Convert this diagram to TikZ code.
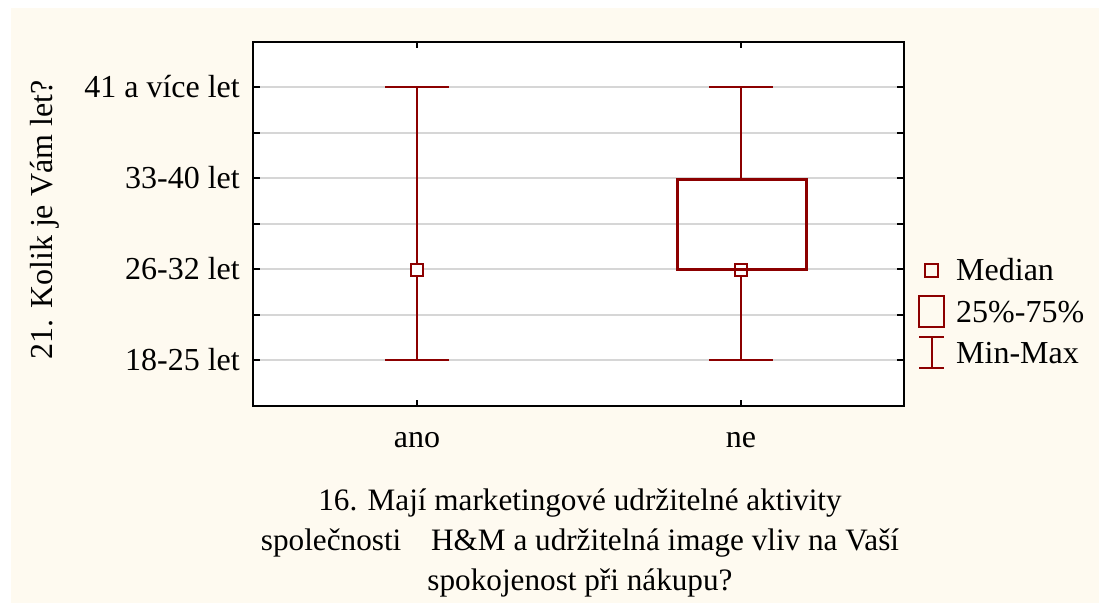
\documentclass[tikz,border=0pt]{standalone}
\usepackage{fontspec}
\setmainfont{Liberation Serif}
\definecolor{cream}{RGB}{254,250,240}
\definecolor{dred}{RGB}{140,0,0}
\definecolor{grid}{RGB}{214,214,214}
\begin{document}
\begin{tikzpicture}[x=1pt,y=-1pt,
  lbl/.style={inner sep=0pt,font=\fontsize{32}{38}\selectfont},
  ttl/.style={inner sep=0pt,anchor=base,font=\fontsize{31.2}{38}\selectfont},
  gridline/.style={draw=grid,line width=1.6pt},
  axisline/.style={draw=black,line width=1.8pt},
  whisk/.style={draw=dred,line width=2pt},
  boxline/.style={draw=dred,line width=3pt},
  medsq/.style={draw=dred,line width=2pt,minimum size=12pt,inner sep=0pt,fill=white}]
\useasboundingbox (0,0) rectangle (1099,603);
\fill[cream] (11,8) rectangle (1099,603);
% plot area
\fill[white] (253,42) rectangle (904,406);
\foreach \yy in {87,133,178,224,269,315,360}{
  \draw[gridline] (253,\yy) -- (904,\yy);
  \draw[axisline] (253,\yy) -- (260,\yy);
  \draw[axisline] (904,\yy) -- (897,\yy);
}
\foreach \xx in {417,741}{
  \draw[axisline] (\xx,42) -- (\xx,48);
  \draw[axisline] (\xx,406) -- (\xx,400);
}
\draw[axisline] (253,42) rectangle (904,406);
% ano
\coordinate (aT) at (417,87);
\coordinate (aB) at (417,360);
\draw[whisk] (aT) -- (aB);
\draw[whisk] ([xshift=-32pt]aT) -- ([xshift=32pt]aT);
\draw[whisk] ([xshift=-32pt]aB) -- ([xshift=32pt]aB);
\node[medsq] (aM) at (417,270) {};
% ne
\coordinate (nT) at (741,87);
\coordinate (nB) at (741,360);
\coordinate (nQ3) at (741,179);
\coordinate (nQ1) at (741,269);
\draw[whisk] (nT) -- (nQ3);
\draw[whisk] (nQ1) -- (nB);
\draw[whisk] ([xshift=-32pt]nT) -- ([xshift=32pt]nT);
\draw[whisk] ([xshift=-32pt]nB) -- ([xshift=32pt]nB);
\node[medsq] (nM) at (741,270) {};
\draw[boxline] (677,179) rectangle (806,269);
% y tick labels
\node[lbl,anchor=east] (t4) at (240,87) {41 a více let};
\node[lbl,anchor=east] (t3) at (240,178) {33-40 let};
\node[lbl,anchor=east] (t2) at (240,269) {26-32 let};
\node[lbl,anchor=east] (t1) at (240,360) {18-25 let};
\node[lbl,rotate=90] (ylab) at (45,220) {21. Kolik je Vám let?};
% x labels
\node[lbl] (xa) at (417,440) {ano};
\node[lbl] (xn) at (741,440) {ne};
\node[ttl] (title1) at (580,510) {16. Mají marketingové udržitelné aktivity};
\node[ttl] (title2) at (580,550) {společnosti\hspace{22pt} H\&M a udržitelná image vliv na Vaší};
\node[ttl] (title3) at (580,590) {spokojenost při nákupu?};
% legend
\node[draw=dred,line width=2pt,minimum size=13pt,inner sep=0pt] (lg1) at (931.5,270) {};
\node[draw=dred,line width=2.5pt,minimum width=25pt,minimum height=31pt,inner sep=0pt] (lg2) at (931.5,311.5) {};
\coordinate (lg3t) at (931.5,337);
\coordinate (lg3b) at (931.5,368);
\draw[whisk] (lg3t) -- (lg3b);
\draw[whisk] ([xshift=-12.5pt]lg3t) -- ([xshift=12.5pt]lg3t);
\draw[whisk] ([xshift=-12.5pt]lg3b) -- ([xshift=12.5pt]lg3b);
\node[lbl,anchor=west] (l1) at (956,270) {Median};
\node[lbl,anchor=west] (l2) at (956,312) {25\%-75\%};
\node[lbl,anchor=west] (l3) at (956,353) {Min-Max};
\end{tikzpicture}
\end{document}
